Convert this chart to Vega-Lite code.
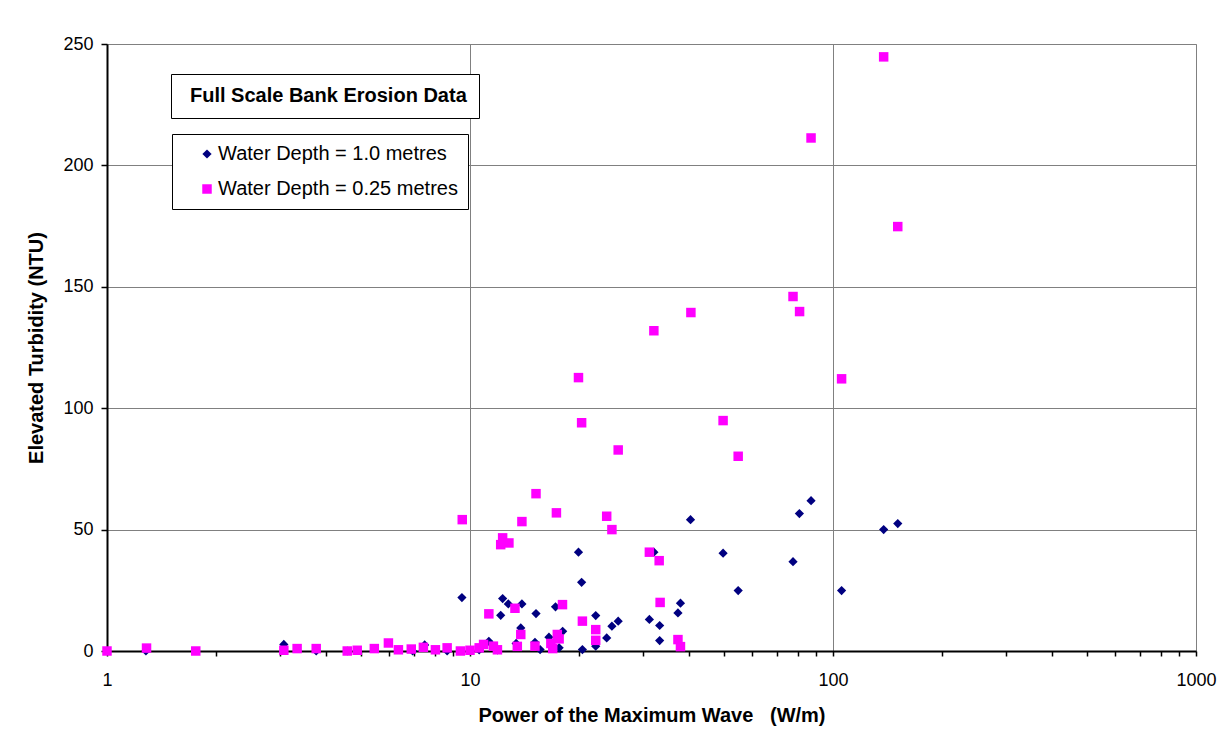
{
  "$schema": "https://vega.github.io/schema/vega-lite/v6.json",
  "width": 1089,
  "height": 607,
  "autosize": "none",
  "padding": {"left": 107, "top": 44, "right": 34, "bottom": 98},
  "background": "white",
  "config": {
    "view": {"stroke": "#808080", "strokeWidth": 1},
    "font": "Liberation Sans"
  },
  "data": {
    "values": [
      {"power": 1.28, "turbidity": 0, "series": "Water Depth = 1.0 metres"},
      {"power": 3.07, "turbidity": 2.7, "series": "Water Depth = 1.0 metres"},
      {"power": 3.77, "turbidity": 0, "series": "Water Depth = 1.0 metres"},
      {"power": 4.59, "turbidity": 0, "series": "Water Depth = 1.0 metres"},
      {"power": 6.95, "turbidity": 0, "series": "Water Depth = 1.0 metres"},
      {"power": 7.5, "turbidity": 2.5, "series": "Water Depth = 1.0 metres"},
      {"power": 8.65, "turbidity": 0, "series": "Water Depth = 1.0 metres"},
      {"power": 9.5, "turbidity": 22, "series": "Water Depth = 1.0 metres"},
      {"power": 10.6, "turbidity": 0.5, "series": "Water Depth = 1.0 metres"},
      {"power": 11.27, "turbidity": 4, "series": "Water Depth = 1.0 metres"},
      {"power": 11.9, "turbidity": 0.5, "series": "Water Depth = 1.0 metres"},
      {"power": 12.15, "turbidity": 14.7, "series": "Water Depth = 1.0 metres"},
      {"power": 12.3, "turbidity": 21.6, "series": "Water Depth = 1.0 metres"},
      {"power": 12.75, "turbidity": 19.4, "series": "Water Depth = 1.0 metres"},
      {"power": 13.4, "turbidity": 3.1, "series": "Water Depth = 1.0 metres"},
      {"power": 13.8, "turbidity": 9.5, "series": "Water Depth = 1.0 metres"},
      {"power": 13.9, "turbidity": 19.4, "series": "Water Depth = 1.0 metres"},
      {"power": 15.1, "turbidity": 3.6, "series": "Water Depth = 1.0 metres"},
      {"power": 15.2, "turbidity": 15.4, "series": "Water Depth = 1.0 metres"},
      {"power": 15.6, "turbidity": 0.6, "series": "Water Depth = 1.0 metres"},
      {"power": 16.5, "turbidity": 5.7, "series": "Water Depth = 1.0 metres"},
      {"power": 17.2, "turbidity": 18.2, "series": "Water Depth = 1.0 metres"},
      {"power": 17.6, "turbidity": 1.3, "series": "Water Depth = 1.0 metres"},
      {"power": 18.0, "turbidity": 8.1, "series": "Water Depth = 1.0 metres"},
      {"power": 19.9, "turbidity": 40.7, "series": "Water Depth = 1.0 metres"},
      {"power": 20.3, "turbidity": 28.3, "series": "Water Depth = 1.0 metres"},
      {"power": 20.4, "turbidity": 0.6, "series": "Water Depth = 1.0 metres"},
      {"power": 22.2, "turbidity": 2, "series": "Water Depth = 1.0 metres"},
      {"power": 22.2, "turbidity": 14.6, "series": "Water Depth = 1.0 metres"},
      {"power": 23.8, "turbidity": 5.4, "series": "Water Depth = 1.0 metres"},
      {"power": 24.6, "turbidity": 10.2, "series": "Water Depth = 1.0 metres"},
      {"power": 25.6, "turbidity": 12.3, "series": "Water Depth = 1.0 metres"},
      {"power": 31.2, "turbidity": 13, "series": "Water Depth = 1.0 metres"},
      {"power": 32.1, "turbidity": 40.7, "series": "Water Depth = 1.0 metres"},
      {"power": 33.3, "turbidity": 10.5, "series": "Water Depth = 1.0 metres"},
      {"power": 33.3, "turbidity": 4.3, "series": "Water Depth = 1.0 metres"},
      {"power": 37.4, "turbidity": 15.7, "series": "Water Depth = 1.0 metres"},
      {"power": 38.0, "turbidity": 19.7, "series": "Water Depth = 1.0 metres"},
      {"power": 40.5, "turbidity": 54.1, "series": "Water Depth = 1.0 metres"},
      {"power": 49.8, "turbidity": 40.3, "series": "Water Depth = 1.0 metres"},
      {"power": 54.8, "turbidity": 24.9, "series": "Water Depth = 1.0 metres"},
      {"power": 77.6, "turbidity": 36.8, "series": "Water Depth = 1.0 metres"},
      {"power": 80.8, "turbidity": 56.6, "series": "Water Depth = 1.0 metres"},
      {"power": 87.0, "turbidity": 61.9, "series": "Water Depth = 1.0 metres"},
      {"power": 105.6, "turbidity": 24.9, "series": "Water Depth = 1.0 metres"},
      {"power": 137.9, "turbidity": 50, "series": "Water Depth = 1.0 metres"},
      {"power": 150.8, "turbidity": 52.5, "series": "Water Depth = 1.0 metres"},
      {"power": 1.0, "turbidity": 0, "series": "Water Depth = 0.25 metres"},
      {"power": 1.285, "turbidity": 1.2, "series": "Water Depth = 0.25 metres"},
      {"power": 1.756, "turbidity": 0, "series": "Water Depth = 0.25 metres"},
      {"power": 3.07, "turbidity": 0.3, "series": "Water Depth = 0.25 metres"},
      {"power": 3.34, "turbidity": 1, "series": "Water Depth = 0.25 metres"},
      {"power": 3.77, "turbidity": 1, "series": "Water Depth = 0.25 metres"},
      {"power": 4.59, "turbidity": 0, "series": "Water Depth = 0.25 metres"},
      {"power": 4.89, "turbidity": 0.3, "series": "Water Depth = 0.25 metres"},
      {"power": 5.45, "turbidity": 1, "series": "Water Depth = 0.25 metres"},
      {"power": 5.96, "turbidity": 3.3, "series": "Water Depth = 0.25 metres"},
      {"power": 6.35, "turbidity": 0.5, "series": "Water Depth = 0.25 metres"},
      {"power": 6.89, "turbidity": 0.8, "series": "Water Depth = 0.25 metres"},
      {"power": 7.44, "turbidity": 1.5, "series": "Water Depth = 0.25 metres"},
      {"power": 8.03, "turbidity": 0.5, "series": "Water Depth = 0.25 metres"},
      {"power": 8.65, "turbidity": 1.3, "series": "Water Depth = 0.25 metres"},
      {"power": 9.41, "turbidity": 0, "series": "Water Depth = 0.25 metres"},
      {"power": 10.0, "turbidity": 0.3, "series": "Water Depth = 0.25 metres"},
      {"power": 10.6, "turbidity": 1.3, "series": "Water Depth = 0.25 metres"},
      {"power": 10.9, "turbidity": 2.7, "series": "Water Depth = 0.25 metres"},
      {"power": 11.6, "turbidity": 2, "series": "Water Depth = 0.25 metres"},
      {"power": 11.9, "turbidity": 0.5, "series": "Water Depth = 0.25 metres"},
      {"power": 9.52, "turbidity": 54.1, "series": "Water Depth = 0.25 metres"},
      {"power": 11.27, "turbidity": 15.3, "series": "Water Depth = 0.25 metres"},
      {"power": 12.15, "turbidity": 43.8, "series": "Water Depth = 0.25 metres"},
      {"power": 12.3, "turbidity": 46.6, "series": "Water Depth = 0.25 metres"},
      {"power": 12.8, "turbidity": 44.5, "series": "Water Depth = 0.25 metres"},
      {"power": 13.3, "turbidity": 17.6, "series": "Water Depth = 0.25 metres"},
      {"power": 13.5, "turbidity": 1.9, "series": "Water Depth = 0.25 metres"},
      {"power": 13.8, "turbidity": 6.8, "series": "Water Depth = 0.25 metres"},
      {"power": 13.9, "turbidity": 53.3, "series": "Water Depth = 0.25 metres"},
      {"power": 15.1, "turbidity": 2, "series": "Water Depth = 0.25 metres"},
      {"power": 15.2, "turbidity": 64.8, "series": "Water Depth = 0.25 metres"},
      {"power": 16.7, "turbidity": 3.1, "series": "Water Depth = 0.25 metres"},
      {"power": 16.9, "turbidity": 1, "series": "Water Depth = 0.25 metres"},
      {"power": 17.3, "turbidity": 56.9, "series": "Water Depth = 0.25 metres"},
      {"power": 17.4, "turbidity": 6.8, "series": "Water Depth = 0.25 metres"},
      {"power": 17.6, "turbidity": 5, "series": "Water Depth = 0.25 metres"},
      {"power": 17.98, "turbidity": 19.1, "series": "Water Depth = 0.25 metres"},
      {"power": 19.9, "turbidity": 112.6, "series": "Water Depth = 0.25 metres"},
      {"power": 20.3, "turbidity": 94, "series": "Water Depth = 0.25 metres"},
      {"power": 20.4, "turbidity": 12.3, "series": "Water Depth = 0.25 metres"},
      {"power": 22.2, "turbidity": 8.8, "series": "Water Depth = 0.25 metres"},
      {"power": 22.2, "turbidity": 4.4, "series": "Water Depth = 0.25 metres"},
      {"power": 23.8, "turbidity": 55.5, "series": "Water Depth = 0.25 metres"},
      {"power": 24.6, "turbidity": 50, "series": "Water Depth = 0.25 metres"},
      {"power": 25.6, "turbidity": 82.8, "series": "Water Depth = 0.25 metres"},
      {"power": 31.2, "turbidity": 40.7, "series": "Water Depth = 0.25 metres"},
      {"power": 32.1, "turbidity": 131.9, "series": "Water Depth = 0.25 metres"},
      {"power": 33.2, "turbidity": 37.2, "series": "Water Depth = 0.25 metres"},
      {"power": 33.4, "turbidity": 20, "series": "Water Depth = 0.25 metres"},
      {"power": 37.4, "turbidity": 4.7, "series": "Water Depth = 0.25 metres"},
      {"power": 38.0, "turbidity": 1.8, "series": "Water Depth = 0.25 metres"},
      {"power": 40.6, "turbidity": 139.4, "series": "Water Depth = 0.25 metres"},
      {"power": 49.8, "turbidity": 94.9, "series": "Water Depth = 0.25 metres"},
      {"power": 54.8, "turbidity": 80.2, "series": "Water Depth = 0.25 metres"},
      {"power": 77.6, "turbidity": 146, "series": "Water Depth = 0.25 metres"},
      {"power": 80.9, "turbidity": 139.8, "series": "Water Depth = 0.25 metres"},
      {"power": 87.0, "turbidity": 211.3, "series": "Water Depth = 0.25 metres"},
      {"power": 105.6, "turbidity": 112.1, "series": "Water Depth = 0.25 metres"},
      {"power": 137.9, "turbidity": 244.7, "series": "Water Depth = 0.25 metres"},
      {"power": 150.8, "turbidity": 174.8, "series": "Water Depth = 0.25 metres"}
    ]
  },
  "mark": {"type": "point", "filled": true, "strokeWidth": 0, "opacity": 1},
  "encoding": {
    "x": {
      "field": "power",
      "type": "quantitative",
      "scale": {"type": "log", "domain": [1, 1000], "nice": false},
      "axis": {
        "title": "Power of the Maximum Wave\u00a0\u00a0\u00a0(W/m)",
        "titleFont": "Liberation Sans",
        "titleFontSize": 20,
        "titleFontWeight": "bold",
        "titleColor": "black",
        "titlePadding": 16,
        "values": [1, 2, 3, 4, 5, 6, 7, 8, 9, 10, 20, 30, 40, 50, 60, 70, 80, 90, 100, 200, 300, 400, 500, 600, 700, 800, 900, 1000],
        "labelExpr": "indexof([1,10,100,1000], datum.value) >= 0 ? format(datum.value, 'd') : ''",
        "labelFont": "Liberation Sans",
        "labelFontSize": 18,
        "labelColor": "black",
        "labelPadding": 15,
        "labelFlush": false,
        "labelOverlap": false,
        "domainColor": "black",
        "domainWidth": 2,
        "tickColor": "black",
        "tickSize": 5,
        "tickWidth": 1.5,
        "grid": true,
        "gridColor": "#808080",
        "gridWidth": 1,
        "gridOpacity": {"condition": {"test": "indexof([10,100], datum.value) >= 0", "value": 1}, "value": 0}
      }
    },
    "y": {
      "field": "turbidity",
      "type": "quantitative",
      "scale": {"domain": [0, 250], "nice": false},
      "axis": {
        "title": "Elevated Turbidity (NTU)",
        "titleFont": "Liberation Sans",
        "titleFontSize": 20,
        "titleFontWeight": "bold",
        "titleColor": "black",
        "titlePadding": 16,
        "values": [0, 50, 100, 150, 200, 250],
        "labelFont": "Liberation Sans",
        "labelFontSize": 18,
        "labelColor": "black",
        "labelPadding": 8,
        "labelFlush": false,
        "domainColor": "black",
        "domainWidth": 2,
        "tickColor": "black",
        "tickSize": 6,
        "tickWidth": 1.5,
        "grid": true,
        "gridColor": "#808080",
        "gridWidth": 1
      }
    },
    "color": {
      "field": "series",
      "type": "nominal",
      "scale": {"domain": ["Water Depth = 1.0 metres", "Water Depth = 0.25 metres"], "range": ["#000080", "#FF00FF"]},
      "legend": {
        "title": null,
        "orient": "none",
        "legendX": 65,
        "legendY": 90,
        "strokeColor": "black",
        "fillColor": "white",
        "padding": 10,
        "labelFont": "Liberation Sans",
        "labelFontSize": 20,
        "labelColor": "black",
        "labelLimit": 0,
        "symbolSize": 60,
        "symbolOffset": 15,
        "labelOffset": 1,
        "rowPadding": 15,
        "symbolStrokeWidth": 0,
        "labelExpr": "datum.label + '\u00a0\u00a0\u00a0\u00a0'"
      }
    },
    "shape": {
      "field": "series",
      "type": "nominal",
      "scale": {"domain": ["Water Depth = 1.0 metres", "Water Depth = 0.25 metres"], "range": ["diamond", "square"]},
      "legend": {
        "title": null,
        "orient": "none",
        "legendX": 65,
        "legendY": 90,
        "strokeColor": "black",
        "fillColor": "white",
        "padding": 10,
        "labelFont": "Liberation Sans",
        "labelFontSize": 20,
        "labelColor": "black",
        "labelLimit": 0,
        "symbolSize": 60,
        "symbolOffset": 15,
        "labelOffset": 1,
        "rowPadding": 15,
        "symbolStrokeWidth": 0,
        "labelExpr": "datum.label + '\u00a0\u00a0\u00a0\u00a0'"
      }
    },
    "size": {
      "field": "series",
      "type": "nominal",
      "scale": {"domain": ["Water Depth = 1.0 metres", "Water Depth = 0.25 metres"], "range": [85, 90]},
      "legend": null
    },
    "strokeDash": {
      "datum": "Full Scale Bank Erosion Data",
      "type": "nominal",
      "legend": {
        "title": null,
        "orient": "none",
        "legendX": 64,
        "legendY": 30,
        "strokeColor": "black",
        "fillColor": "white",
        "padding": 12,
        "labelFont": "Liberation Sans",
        "labelFontSize": 20,
        "labelFontWeight": "bold",
        "labelColor": "black",
        "labelLimit": 0,
        "symbolSize": 0,
        "symbolOpacity": 0,
        "symbolStrokeWidth": 0,
        "labelOffset": -13,
        "labelExpr": "datum.label + '\u00a0\u00a0'"
      }
    }
  }
}
